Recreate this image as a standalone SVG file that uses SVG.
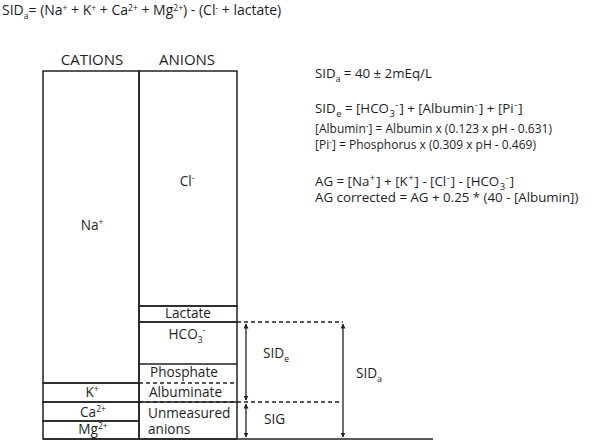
<svg xmlns="http://www.w3.org/2000/svg" width="600" height="443" viewBox="0 0 600 443">
<style>
text{font-family:"Open Sans","Noto Sans","DejaVu Sans",sans-serif;fill:#1e1e1e;}
.ti{font-size:14px;}
.t{font-size:13.6px;}
.f{font-size:13.3px;}
.s{font-size:12px;}
.h{font-size:15px;}
.c{text-anchor:middle;}
.sub{font-size:8.5px;}
.sb{font-size:9.5px;}
.box{fill:none;stroke:#222;stroke-width:1.5;}
.ln{stroke:#222;stroke-width:1.5;fill:none;}
.dash{stroke:#222;stroke-width:1.3;stroke-dasharray:4,3;fill:none;}
.arr{stroke:#222;stroke-width:1.3;fill:none;marker-start:url(#ah);marker-end:url(#ah);}
</style>
<defs>
<marker id="ah" viewBox="0 0 10 10" refX="9" refY="5" markerWidth="5" markerHeight="5" orient="auto-start-reverse" markerUnits="userSpaceOnUse">
<path d="M0,0 L10,5 L0,10 z" fill="#222"/>
</marker>
</defs>
<rect width="600" height="443" fill="#fff"/>

<g id="title">
<text class="ti" x="2" y="15">SID<tspan class="sub" dy="4">a</tspan><tspan dy="-4">= (Na</tspan><tspan class="sub" dy="-4">+</tspan><tspan dy="4"> + K</tspan><tspan class="sub" dy="-4">+</tspan><tspan dy="4"> + Ca</tspan><tspan class="sub" dy="-4">2+</tspan><tspan dy="4"> + Mg</tspan><tspan class="sub" dy="-4">2+</tspan><tspan dy="4">) - (Cl</tspan><tspan class="sub" dy="-4">-</tspan><tspan dy="4"> + lactate)</tspan></text>
</g>

<g id="headers">
<text class="h c" x="92" y="65">CATIONS</text>
<text class="h c" x="187" y="65">ANIONS</text>
</g>

<g id="cations">
<g id="na"><rect class="box" x="43" y="71" width="96" height="312"/><text class="t c" x="92" y="230">Na<tspan class="sub" dy="-5">+</tspan></text></g>
<g id="k"><rect class="box" x="43" y="383" width="96" height="19"/><text class="t c" x="92" y="397">K<tspan class="sub" dy="-5">+</tspan></text></g>
<g id="ca"><rect class="box" x="43" y="402" width="96" height="19"/><text class="t c" x="93" y="417">Ca<tspan class="sub" dy="-5">2+</tspan></text></g>
<g id="mg"><rect class="box" x="43" y="421" width="96" height="18"/><text class="t c" x="93" y="434">Mg<tspan class="sub" dy="-5">2+</tspan></text></g>
</g>

<g id="anions">
<g id="cl"><rect class="box" x="139" y="71" width="98" height="235"/><text class="t c" x="187" y="186">Cl<tspan class="sub" dy="-5">-</tspan></text></g>
<g id="lactate"><rect class="box" x="139" y="306" width="98" height="16"/><text class="t c" x="188" y="318">Lactate</text></g>
<g id="hco3"><rect class="box" x="139" y="322" width="98" height="42"/><text class="t c" x="187" y="339">HCO<tspan class="sub" dy="4">3</tspan><tspan class="sub" dy="-10">-</tspan></text></g>
<g id="phosphate"><line class="ln" x1="139" y1="364" x2="139" y2="383"/><line class="ln" x1="237" y1="364" x2="237" y2="383"/><text class="t" x="150" y="377">Phosphate</text></g>
<g id="albuminate"><line class="ln" x1="139" y1="383" x2="139" y2="402"/><line class="ln" x1="237" y1="383" x2="237" y2="402"/><text class="t" x="149" y="397">Albuminate</text></g>
<g id="unmeasured"><rect class="box" x="139" y="402" width="98" height="37"/><text class="t" x="148" y="418">Unmeasured</text><text class="t" x="148" y="434">anions</text></g>
</g>

<g id="connectors">
<line class="dash" x1="139" y1="383" x2="237" y2="383"/>
<line class="dash" x1="237" y1="322" x2="343" y2="322"/>
<line class="dash" x1="139" y1="402" x2="340" y2="402"/>
<line class="ln" x1="43" y1="439" x2="433" y2="439"/>
<line class="arr" x1="246" y1="324" x2="246" y2="400"/>
<line class="arr" x1="246" y1="404" x2="246" y2="437"/>
<line class="arr" x1="343" y1="324" x2="343" y2="437"/>
</g>

<g id="labels">
<text class="t" x="263" y="358">SID<tspan class="sub" dy="4">e</tspan></text>
<text class="t" x="264" y="424">SIG</text>
<text class="t" x="356" y="378">SID<tspan class="sub" dy="4">a</tspan></text>
</g>

<g id="formulas">
<text class="f" x="315" y="78">SID<tspan class="sub" dy="4">a</tspan><tspan dy="-4"> = 40 ± 2mEq/L</tspan></text>
<text class="f" x="315" y="113">SID<tspan class="sb" dy="4" dx="0.5">e</tspan><tspan dy="-4"> = [HCO</tspan><tspan class="sb" dy="4" dx="0.5">3</tspan><tspan class="sb" dy="-9" dx="0.5">-</tspan><tspan dy="5" dx="1">] + [Albumin</tspan><tspan class="sb" dy="-5" dx="0.5">-</tspan><tspan dy="5" dx="1">] + [Pi</tspan><tspan class="sb" dy="-5" dx="0.5">-</tspan><tspan dy="5" dx="1">]</tspan></text>
<text class="s" x="315" y="133">[Albumin<tspan class="sub" dy="-4">-</tspan><tspan dy="4">] = Albumin x (0.123 x pH - 0.631)</tspan></text>
<text class="s" x="315" y="149">[Pi<tspan class="sub" dy="-4">-</tspan><tspan dy="4">] = Phosphorus x (0.309 x pH - 0.469)</tspan></text>
<text class="f" x="315" y="186">AG = [Na<tspan class="sb" dy="-5" dx="0.5">+</tspan><tspan dy="5" dx="1">] + [K</tspan><tspan class="sb" dy="-5" dx="0.5">+</tspan><tspan dy="5" dx="1">] - [Cl</tspan><tspan class="sb" dy="-5" dx="0.5">-</tspan><tspan dy="5" dx="1">] - [HCO</tspan><tspan class="sb" dy="4" dx="0.5">3</tspan><tspan class="sb" dy="-9" dx="0.5">-</tspan><tspan dy="5" dx="1">]</tspan></text>
<text class="f" x="315" y="202">AG corrected = AG + 0.25 * (40 - [Albumin])</text>
</g>
</svg>
